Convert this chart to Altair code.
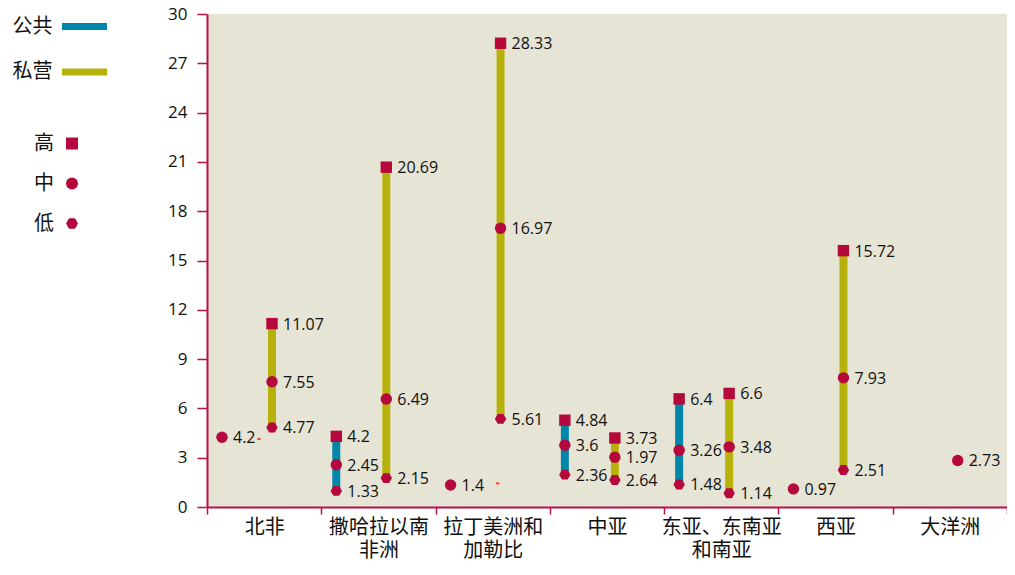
import altair as alt
import pandas as pd

# ---------------- data ----------------
categories = ["北非", "撒哈拉以南\n非洲", "拉丁美洲和\n加勒比", "中亚", "东亚、东南亚\n和南亚", "西亚", "大洋洲"]
sectors = ["公共", "私营"]
levels = ["高", "中", "低"]

pt_region = [0, 0, 0, 0,
             1, 1, 1, 1, 1, 1,
             2, 2, 2, 2,
             3, 3, 3, 3, 3, 3,
             4, 4, 4, 4, 4, 4,
             5, 5, 5, 5,
             6]
pt_sector = ["公共", "私营", "私营", "私营",
             "公共", "公共", "公共", "私营", "私营", "私营",
             "公共", "私营", "私营", "私营",
             "公共", "公共", "公共", "私营", "私营", "私营",
             "公共", "公共", "公共", "私营", "私营", "私营",
             "公共", "私营", "私营", "私营",
             "私营"]
pt_level = ["中", "高", "中", "低",
            "高", "中", "低", "高", "中", "低",
            "中", "高", "中", "低",
            "高", "中", "低", "高", "中", "低",
            "高", "中", "低", "高", "中", "低",
            "中", "高", "中", "低",
            "中"]
# values as drawn
pt_value = [4.24, 11.16, 7.62, 4.84,
            4.30, 2.57, 0.98, 20.68, 6.57, 1.76,
            1.34, 28.22, 16.96, 5.36,
            5.28, 3.76, 1.97, 4.20, 3.03, 1.64,
            6.58, 3.46, 1.37, 6.91, 3.66, 0.84,
            1.10, 15.60, 7.86, 2.25,
            2.83]
# labels as printed
pt_label = ["4.2", "11.07", "7.55", "4.77",
            "4.2", "2.45", "1.33", "20.69", "6.49", "2.15",
            "1.4", "28.33", "16.97", "5.61",
            "4.84", "3.6", "2.36", "3.73", "1.97", "2.64",
            "6.4", "3.26", "1.48", "6.6", "3.48", "1.14",
            "0.97", "15.72", "7.93", "2.51",
            "2.73"]

# small orange markers
dash_region = [0, 2, 5, 6]
dash_value = [4.14, 1.44, 1.10, 2.79]

# ---------------- layout / style ----------------
W, H = 800, 493
BAND = W / len(categories)
SLOT = {"公共": 15, "私营": 65}
DASH_OFFSET_PX = [52, 62, 43, 82]

CRIMSON = "#b5083c"
BLUE = "#0086a8"
OLIVE = "#b7b20b"
BEIGE = "#e6e4d5"
ORANGE = "#f0502a"
AXIS_RED = "#b8104a"
CJK = "Noto Sans CJK SC"
NUM = "Open Sans"
HEX = "M-1,0L-0.5,-0.866L0.5,-0.866L1,0L0.5,0.866L-0.5,0.866Z"
DASH = "M-1,-0.6L1,-0.6L1,0.6L-1,0.6Z"

pts = pd.DataFrame({
    "region": [categories[i] for i in pt_region],
    "sector": pt_sector,
    "level": pt_level,
    "value": pt_value,
    "label": pt_label,
})
pts["off"] = pts["sector"].map(SLOT)

piv = pts.pivot_table(index=["region", "sector"], columns="level", values="value",
                      aggfunc="first").reset_index()
rules = piv.dropna(subset=["高", "低"]).rename(columns={"高": "hi", "低": "lo"})[["region", "sector", "hi", "lo"]]
rules["off"] = rules["sector"].map(SLOT)

dashes = pd.DataFrame({
    "region": [categories[i] for i in dash_region],
    "value": dash_value,
    "off": DASH_OFFSET_PX,
})

x_enc = alt.X(
    "region:N",
    sort=categories,
    scale=alt.Scale(domain=categories, paddingInner=0, paddingOuter=0),
    axis=alt.Axis(
        title=None, tickBand="extent", labelAngle=0,
        labelExpr="split(datum.label, '\\n')",
        labelFont=CJK, labelFontSize=20, labelColor="#111111",
        labelLineHeight=23, labelPadding=3,
        domainColor=AXIS_RED, domainWidth=2,
        tickColor=AXIS_RED, tickSize=7, tickWidth=1.5,
    ),
)
xo = alt.XOffset("off:Q", scale=alt.Scale(domain=[0, BAND], range=[0, BAND]))
y_scale = alt.Scale(domain=[0, 30], nice=False)
y_axis = alt.Axis(
    title=None, values=list(range(0, 31, 3)), grid=False,
    labelFont=NUM, labelFontSize=17, labelColor="#111111", labelPadding=10,
    domainColor=AXIS_RED, domainWidth=2,
    tickColor=AXIS_RED, tickSize=10, tickWidth=1.5,
)

rule_layer = alt.Chart(rules).mark_rule(strokeWidth=8).encode(
    x=x_enc,
    xOffset=xo,
    y=alt.Y("lo:Q", scale=y_scale, axis=y_axis),
    y2="hi:Q",
    color=alt.Color(
        "sector:N",
        scale=alt.Scale(domain=sectors, range=[BLUE, OLIVE]),
        legend=alt.Legend(
            title=None, orient="none", legendX=-148.5, legendY=-13.5,
            symbolType="stroke", symbolSize=2025, symbolStrokeWidth=7,
            labelAlign="right", labelOffset=alt.ExprRef("-58"),
            labelFont=CJK, labelFontSize=20, labelColor="#111111",
            rowPadding=5.5, padding=0,
        ),
    ),
)

point_layer = alt.Chart(pts).mark_point(filled=True, opacity=1, color=CRIMSON, size=130, strokeWidth=0).encode(
    x=x_enc,
    xOffset=xo,
    y=alt.Y("value:Q", scale=y_scale, axis=y_axis),
    shape=alt.Shape(
        "level:N",
        scale=alt.Scale(domain=levels, range=["square", "circle", HEX]),
        legend=alt.Legend(
            title=None, orient="none", legendX=-145, legendY=119.5,
            symbolSize=144, symbolFillColor=CRIMSON, symbolStrokeColor=CRIMSON,
            symbolStrokeWidth=0,
            labelAlign="right", labelOffset=alt.ExprRef("-28"),
            labelFont=CJK, labelFontSize=20, labelColor="#111111",
            rowPadding=20, padding=0,
        ),
    ),
)

text_layer = alt.Chart(pts).mark_text(
    align="left", baseline="middle", dx=11, dy=1, font=NUM, fontSize=16, color="#111111"
).encode(
    x=x_enc,
    xOffset=xo,
    y=alt.Y("value:Q", scale=y_scale, axis=y_axis),
    text="label:N",
)

dash_layer = alt.Chart(dashes).mark_point(filled=True, opacity=1, color=ORANGE, shape=DASH, size=12, strokeWidth=0).encode(
    x=x_enc,
    xOffset=xo,
    y=alt.Y("value:Q", scale=y_scale, axis=y_axis),
)

chart = alt.layer(rule_layer, point_layer, dash_layer, text_layer).properties(
    width=W, height=H,
    autosize=alt.AutoSizeParams(type="none"),
    padding={"left": 199, "top": 6, "right": 0, "bottom": 56},
).configure_view(fill=BEIGE, strokeWidth=0)

chart.save("out.html", embed_options={"renderer": "svg", "actions": False})
